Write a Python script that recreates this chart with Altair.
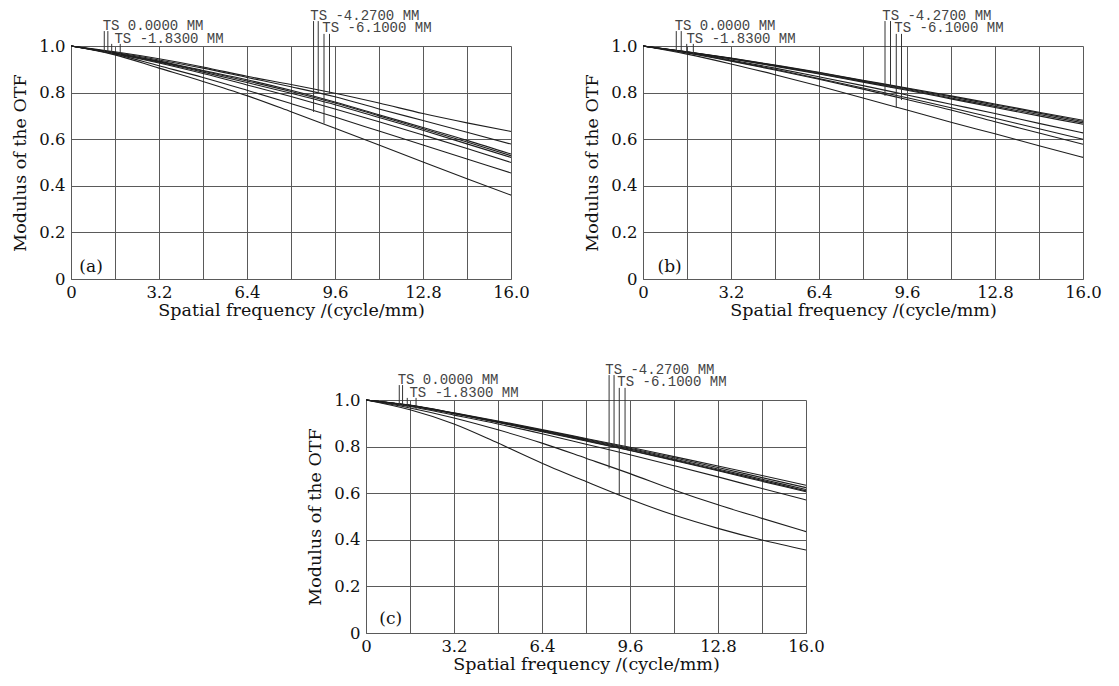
import altair as alt
import pandas as pd

# Spatial frequency sample points (cycle/mm)
freq = [0, 1.6, 3.2, 4.8, 6.4, 8.0, 9.6, 11.2, 12.8, 14.4, 16.0]

# Panel (a): MTF curves (T and S for four fields)
a_c1 = [1, .975, .945, .910, .870, .835, .797, .755, .710, .670, .633]
a_c2 = [1, .972, .940, .905, .865, .825, .782, .730, .680, .630, .579]
a_c3 = [1, .970, .935, .895, .855, .810, .760, .705, .650, .595, .536]
a_c4 = [1, .970, .933, .893, .850, .805, .755, .700, .645, .588, .529]
a_c5 = [1, .968, .930, .888, .843, .797, .748, .693, .638, .580, .522]
a_c6 = [1, .967, .927, .882, .833, .783, .730, .675, .618, .560, .500]
a_c7 = [1, .965, .915, .865, .810, .753, .695, .635, .575, .515, .455]
a_c8 = [1, .962, .905, .848, .787, .718, .647, .575, .502, .430, .360]

# Panel (b)
b_c1 = [1, .975, .948, .918, .887, .853, .820, .786, .751, .716, .681]
b_c2 = [1, .975, .947, .917, .885, .851, .817, .782, .747, .712, .676]
b_c3 = [1, .974, .946, .915, .882, .848, .813, .777, .741, .706, .670]
b_c4 = [1, .974, .945, .913, .880, .845, .810, .773, .736, .700, .664]
b_c5 = [1, .972, .940, .905, .868, .830, .790, .750, .710, .668, .627]
b_c6 = [1, .971, .937, .900, .860, .820, .778, .735, .690, .645, .600]
b_c7 = [1, .970, .935, .897, .857, .815, .770, .725, .675, .627, .578]
b_c8 = [1, .965, .923, .877, .828, .777, .725, .673, .623, .572, .522]

# Panel (c)
c_c1 = [1, .978, .945, .910, .873, .835, .797, .757, .717, .676, .634]
c_c2 = [1, .977, .944, .908, .870, .832, .793, .752, .710, .667, .624]
c_c3 = [1, .977, .943, .906, .868, .829, .789, .747, .704, .660, .616]
c_c4 = [1, .976, .942, .905, .866, .826, .785, .743, .699, .655, .610]
c_c5 = [1, .976, .941, .904, .864, .824, .783, .740, .696, .651, .606]
c_c6 = [1, .972, .935, .897, .855, .810, .765, .718, .670, .620, .571]
c_c7 = [1, .966, .923, .872, .815, .750, .684, .614, .550, .492, .435]
c_c8 = [1, .958, .897, .815, .729, .650, .574, .506, .449, .399, .356]

# Field legend labels
field_labels = ["TS 0.0000 MM", "TS -1.8300 MM", "TS -4.2700 MM", "TS -6.1000 MM"]
label_x = [1.15, 1.58, 8.70, 9.14]
label_y = [1.070, 1.014, 1.113, 1.058]

# Leader lines (x, start y, end y on curve)
lead_x = {
    "a": [1.21, 1.34, 1.48, 1.79, 8.82, 8.99, 9.20, 9.40],
    "b": [1.21, 1.39, 1.59, 1.83, 8.80, 9.00, 9.21, 9.40],
    "c": [1.21, 1.33, 1.50, 1.82, 8.84, 9.02, 9.21, 9.42],
}
lead_top = [1.064, 1.064, 1.009, 1.009, 1.107, 1.107, 1.052, 1.052]
lead_end = {
    "a": [0.972, 0.970, 0.965, 0.958, 0.717, 0.800, 0.667, 0.795],
    "b": [0.976, 0.972, 0.968, 0.962, 0.786, 0.820, 0.735, 0.768],
    "c": [0.975, 0.972, 0.968, 0.960, 0.706, 0.801, 0.590, 0.790],
}

panel_tags = {"a": "(a)", "b": "(b)", "c": "(c)"}
tag_x = {"a": 0.73, "b": 0.97, "c": 0.90}
tag_y = {"a": 0.05, "b": 0.05, "c": 0.06}

curves = {
    "a": [a_c1, a_c2, a_c3, a_c4, a_c5, a_c6, a_c7, a_c8],
    "b": [b_c1, b_c2, b_c3, b_c4, b_c5, b_c6, b_c7, b_c8],
    "c": [c_c1, c_c2, c_c3, c_c4, c_c5, c_c6, c_c7, c_c8],
}

x_grid = [round(1.6 * k, 1) for k in range(11)]
y_grid = [round(0.1 * k, 1) for k in range(11)]

SERIF = "DejaVu Serif"
MONO = "Liberation Mono"
GRID = "#5a5a5a"
INK = "#1e1e1e"

W, H = 440, 233


def panel(key):
    rows = []
    for i, c in enumerate(curves[key]):
        for f, v in zip(freq, c):
            rows.append({"curve": f"c{i+1}", "freq": f, "mtf": v})
    df = pd.DataFrame(rows)

    xs = alt.X(
        "freq:Q",
        scale=alt.Scale(domain=[0, 16], nice=False, zero=False),
        axis=alt.Axis(
            values=x_grid, grid=True, gridColor=GRID, gridWidth=1, gridOpacity=1,
            ticks=False, domainColor=GRID, domainWidth=1,
            labelExpr="round(datum.value*10) % 32 == 0 ? (datum.value == 0 ? '0' : format(datum.value, '.1f')) : ''",
            labelFont=SERIF, labelFontSize=16.5, labelColor="#111", labelPadding=5,
            labelFlush=False, labelOverlap=False,
            title="Spatial frequency /(cycle/mm)", titleFont=SERIF, titleFontSize=17.5,
            titleFontWeight="normal", titleColor="#111", titlePadding=1,
        ),
    )
    ys = alt.Y(
        "mtf:Q",
        scale=alt.Scale(domain=[0, 1], nice=False, zero=False),
        axis=alt.Axis(
            values=y_grid, grid=True, gridColor=GRID, gridWidth=1, gridOpacity=1,
            ticks=False, domainColor=GRID, domainWidth=1,
            labelExpr="round(datum.value*10) % 2 == 0 ? (datum.value == 0 ? '0' : format(datum.value, '.1f')) : ''",
            labelFont=SERIF, labelFontSize=16.5, labelColor="#111", labelPadding=6,
            labelOverlap=False,
            title="Modulus of the OTF", titleFont=SERIF, titleFontSize=17.5,
            titleFontWeight="normal", titleColor="#111", titlePadding=9,
        ),
    )

    lines = alt.Chart(df).mark_line(color=INK, strokeWidth=1.1, interpolate="monotone").encode(
        x=xs, y=ys, detail="curve:N"
    )

    lead_df = pd.DataFrame({"x": lead_x[key], "y": lead_top, "y2": lead_end[key]})
    leads = alt.Chart(lead_df).mark_rule(color="#333", strokeWidth=1).encode(
        x="x:Q", y="y:Q", y2="y2:Q"
    )

    lab_df = pd.DataFrame({"x": label_x, "y": label_y, "t": field_labels})
    labels = alt.Chart(lab_df).mark_text(
        align="left", baseline="alphabetic", font=MONO, fontSize=14, color="#444"
    ).encode(x="x:Q", y="y:Q", text="t:N")

    tag_df = pd.DataFrame({"x": [tag_x[key]], "y": [tag_y[key]], "t": [panel_tags[key]]})
    tag = alt.Chart(tag_df).mark_text(
        align="center", baseline="middle", font=SERIF, fontSize=17, color="#111"
    ).encode(x="x:Q", y="y:Q", text="t:N")

    return alt.layer(lines, leads, labels, tag).properties(width=W, height=H)


spacer = alt.Chart(pd.DataFrame({"t": [""]})).mark_text().encode(
    text="t:N", x=alt.value(0), y=alt.value(0)
).properties(width=235, height=10)

row1 = alt.hconcat(panel("a"), panel("b"), spacing=53)
row2 = alt.hconcat(spacer, panel("c"), spacing=0)

chart = alt.vconcat(row1, row2, spacing=43).properties(
    padding={"left": 3, "top": 0, "right": 2, "bottom": 2},
    background="white",
).configure_view(stroke="transparent", strokeWidth=0)

chart.save("out.html", embed_options={"renderer": "svg", "actions": False})
